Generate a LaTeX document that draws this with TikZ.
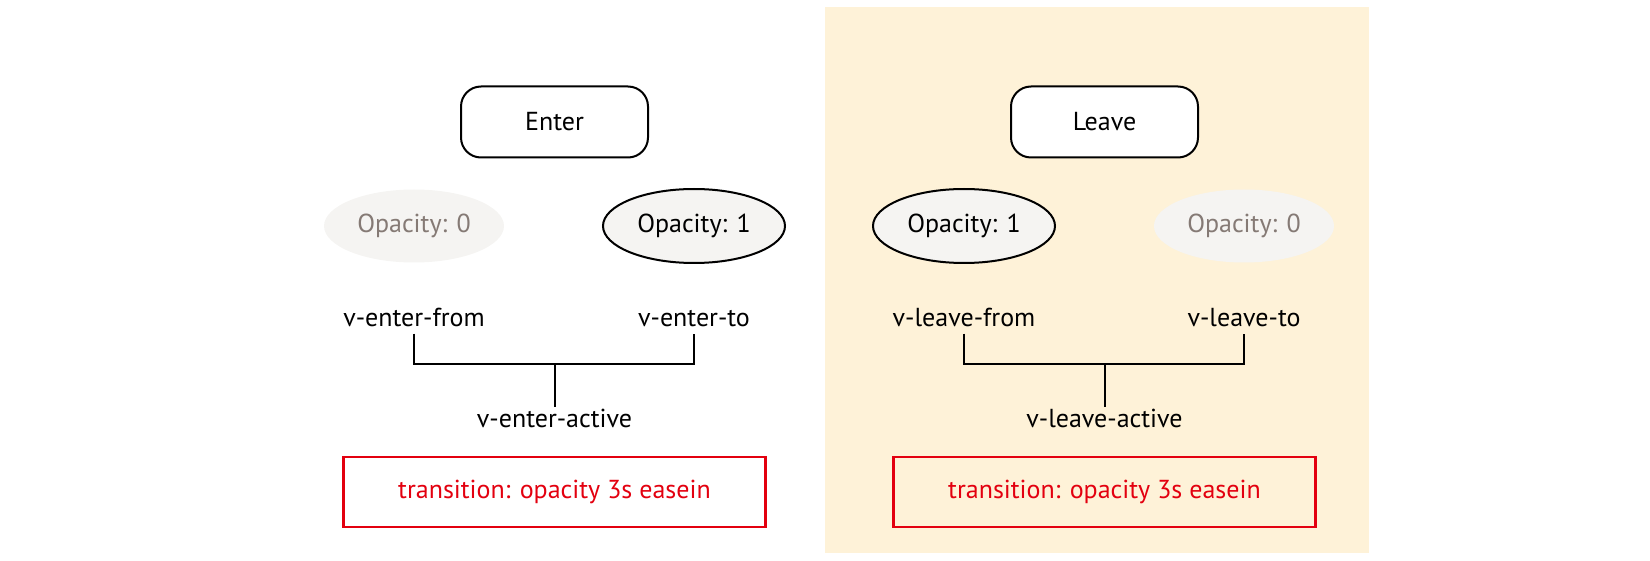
\documentclass[tikz,border=0pt]{standalone}
\usepackage{fontspec}
\setmainfont{PT Sans}
\usepackage{xcolor}
\usetikzlibrary{shapes.geometric,positioning}
\definecolor{cream}{HTML}{FEF2D8}
\definecolor{ghost}{HTML}{F5F4F2}
\definecolor{fadetext}{HTML}{857A75}
\definecolor{cssred}{HTML}{E3000F}

\begin{document}
\begin{tikzpicture}[
    x=0.5pt, y=-0.5pt,
    font=\fontsize{13}{15}\selectfont,
    phase/.style={rectangle, draw, line width=1pt, rounded corners=10pt, minimum width=93.5pt, minimum height=35.5pt, text centered, fill=white},
    opaque/.style={ellipse, draw, line width=1pt, minimum width=91pt, minimum height=37pt, inner sep=0pt, fill=ghost},
    faded/.style={ellipse, minimum width=90pt, minimum height=36.5pt, inner sep=0pt, fill=ghost, text=fadetext},
    classname/.style={inner sep=3pt},
    cssbox/.style={rectangle, draw=cssred, line width=1.3pt, minimum width=211pt, minimum height=35pt, text=cssred},
    bracket/.style={line width=1pt}
]
\useasboundingbox (0,0) rectangle (1650,561);
\fill[cream] (825,7) rectangle (1369,553);

% enter side
\node[phase] (enter) at (554.5,122) {Enter};
\node[faded] (eop0) at (414,226) {Opacity: 0};
\node[opaque] (eop1) at (694,226) {Opacity: 1};
\node[classname, anchor=base] (efrom) at (414,327) {v-enter-from};
\node[classname, anchor=base] (eto) at (694,327) {v-enter-to};
\coordinate (ejoin) at (554.5,364);
\node[classname, anchor=north, inner sep=1pt, below=21.5pt of ejoin] (eactive) {v-enter-active};
\node[cssbox] (etrans) at (554.5,492) {transition: opacity 3s easein};

\draw[bracket] (efrom.south) |- (ejoin) -| (eto.south);
\draw[bracket] (ejoin) -- (eactive.north);

% leave side
\node[phase] (leave) at (1104.5,122) {Leave};
\node[opaque] (lop1) at (964,226) {Opacity: 1};
\node[faded] (lop0) at (1244,226) {Opacity: 0};
\node[classname, anchor=base] (lfrom) at (964,327) {v-leave-from};
\node[classname, anchor=base] (lto) at (1244,327) {v-leave-to};
\coordinate (ljoin) at (1104.5,364);
\node[classname, anchor=north, inner sep=1pt, below=21.5pt of ljoin] (lactive) {v-leave-active};
\node[cssbox] (ltrans) at (1104.5,492) {transition: opacity 3s easein};

\draw[bracket] (lfrom.south) |- (ljoin) -| (lto.south);
\draw[bracket] (ljoin) -- (lactive.north);
\end{tikzpicture}
\end{document}
